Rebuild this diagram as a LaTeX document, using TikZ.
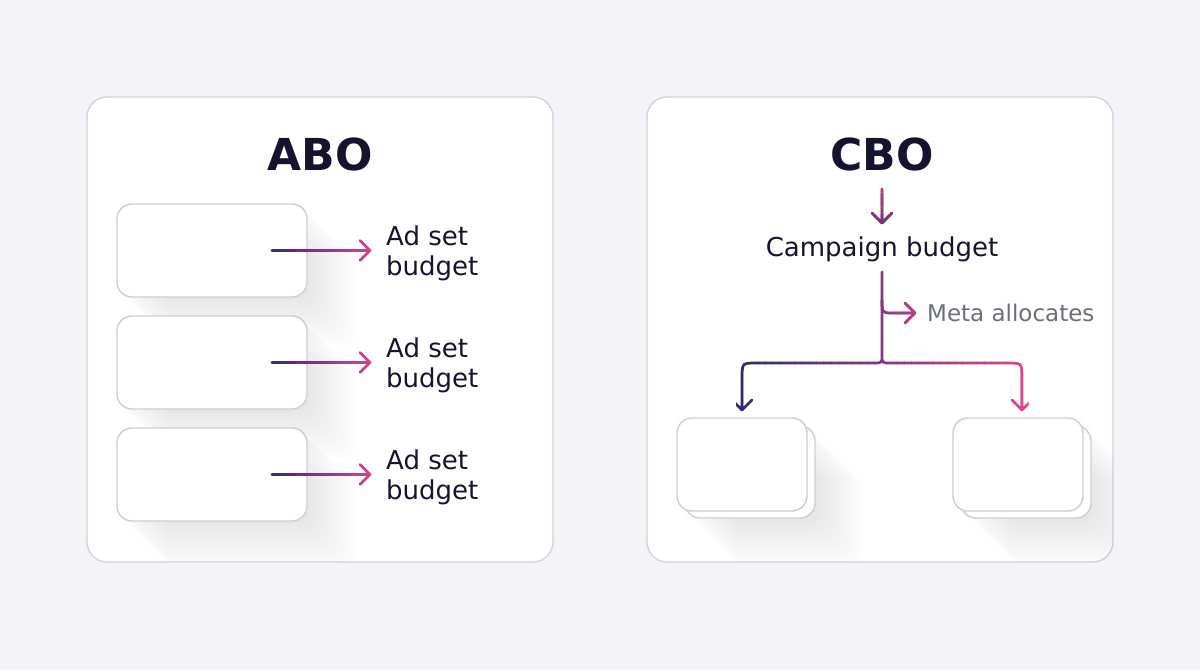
\documentclass[tikz,border=0pt]{standalone}
\usepackage{fontspec}
\setmainfont{DejaVu Sans}
\definecolor{bgc}{HTML}{F4F4F8}
\definecolor{panelb}{HTML}{D3D3DA}
\definecolor{boxb}{HTML}{CDCDD4}
\definecolor{inkc}{HTML}{15142E}
\definecolor{grayt}{HTML}{6E6E78}
\definecolor{navyc}{HTML}{2E2B70}
\definecolor{pinkc}{HTML}{DB468B}
\colorlet{midc}{pinkc!50!navyc}
\colorlet{metac}{pinkc!80!navyc}
\colorlet{topa}{pinkc!80!navyc}
\colorlet{topb}{pinkc!35!navyc}
\tikzset{
  panel/.style={fill=white, draw=panelb, line width=1.4pt, rounded corners=20pt, inner sep=0pt},
  adbox/.style={fill=white, draw=boxb, line width=1.4pt, rounded corners=15pt, minimum width=190pt, minimum height=93pt, inner sep=0pt},
  cbox/.style={fill=white, draw=boxb, line width=1.4pt, rounded corners=15pt, minimum width=130pt, minimum height=93pt, inner sep=0pt},
  flow/.style={line width=2.7pt, line cap=round, line join=round},
  titletext/.style={font=\bfseries\fontsize{44}{44}\selectfont, text=inkc, inner sep=0pt},
  lbl/.style={font=\fontsize{26}{30}\selectfont, text=inkc, align=left, inner sep=0pt},
  metalbl/.style={font=\fontsize{23}{23}\selectfont, text=grayt, inner sep=0pt},
}
% horizontal gradient along a path: xmin xmax ymin ymax leftcolor rightcolor path
\newcommand\hgradpath[7]{%
  \foreach \gi in {0,...,39}{%
    \pgfmathsetmacro\gxa{#1+(#2-#1)*\gi/40}%
    \pgfmathsetmacro\gxb{#1+(#2-#1)*(\gi+1)/40+0.6}%
    \pgfmathtruncatemacro\gp{100*\gi/39}%
    \begin{scope}
      \clip (\gxa,#3) rectangle (\gxb,#4);
      \draw[flow, draw=#6!\gp!#5] #7;
    \end{scope}}}
% vertical gradient: ymin ymax xmin xmax topcolor bottomcolor path
\newcommand\vgradpath[7]{%
  \foreach \gi in {0,...,19}{%
    \pgfmathsetmacro\gya{#1+(#2-#1)*\gi/20}%
    \pgfmathsetmacro\gyb{#1+(#2-#1)*(\gi+1)/20+0.6}%
    \pgfmathtruncatemacro\gp{100*\gi/19}%
    \begin{scope}
      \clip (#3,\gya) rectangle (#4,\gyb);
      \draw[flow, draw=#6!\gp!#5] #7;
    \end{scope}}}
\begin{document}
\begin{tikzpicture}[x=1pt,y=-1pt]
\fill[bgc] (0,0) rectangle (1200,670);
\useasboundingbox (0,0) rectangle (1200,670);
% panel shadows
\foreach \px in {87,647}{
  \foreach \k in {1,...,25}{
    \fill[black, fill opacity=0.0018, rounded corners=20pt] (\px+2.4*\k,97+2.4*\k) rectangle (\px+466+2.4*\k,562+2.4*\k);
  }
}
% panels
\node[panel, minimum width=466pt, minimum height=465pt] (pl) at (320,329.5) {};
\node[panel, minimum width=466pt, minimum height=465pt] (pr) at (880,329.5) {};
% box shadows, left panel
\begin{scope}
  \clip[rounded corners=20pt] (87,97) rectangle (553,562);
  \foreach \yy in {204,317,428}{
    \foreach \k in {1,...,24}{
      \fill[black, fill opacity=0.0032, rounded corners=15pt] (117+2.1*\k,\yy+2.1*\k) rectangle (307+2.1*\k,\yy+93+2.1*\k);
    }
  }
\end{scope}
% box shadows, right panel
\begin{scope}
  \clip[rounded corners=20pt] (647,97) rectangle (1113,562);
  \foreach \xx in {685,961}{
    \foreach \k in {1,...,24}{
      \fill[black, fill opacity=0.0032, rounded corners=15pt] (\xx+2.1*\k,426+2.1*\k) rectangle (\xx+130+2.1*\k,518+2.1*\k);
    }
  }
\end{scope}
% ABO boxes
\node[adbox] (b1) at (212,250.5) {};
\node[adbox] (b2) at (212,362.5) {};
\node[adbox] (b3) at (212,474.5) {};
% CBO stacked boxes
\node[cbox, minimum height=92pt] (lb2) at (750,472) {};
\node[cbox] (lb1) at (742,464.5) {};
\node[cbox, minimum height=92pt] (rb2) at (1026,472) {};
\node[cbox] (rb1) at (1018,464.5) {};
% titles
\node[titletext, anchor=base] (tA) at (320,170) {ABO};
\node[titletext, anchor=base] (tC) at (882,170) {CBO};
% ABO labels
\node[lbl, anchor=west] (l1) at (386,253) {Ad set\\budget};
\node[lbl, anchor=west] (l2) at (386,365) {Ad set\\budget};
\node[lbl, anchor=west] (l3) at (386,477) {Ad set\\budget};
% CBO labels
\node[lbl, anchor=base] (cb) at (882,256) {Campaign budget};
\node[metalbl, anchor=base west] (ma) at (927,321) {Meta allocates};
% ABO arrows
\foreach \i/\yy in {1/250.5,2/362.5,3/474.5}{
  \coordinate (as\i) at (272,\yy);
  \coordinate (ae\i) at (370,\yy);
}
\hgradpath{266}{376}{230}{272}{navyc}{pinkc}{(as1) -- (ae1) ++(-10,-10) -- (ae1) -- ++(-10,10)}
\hgradpath{266}{376}{342}{384}{navyc}{pinkc}{(as2) -- (ae2) ++(-10,-10) -- (ae2) -- ++(-10,10)}
\hgradpath{266}{376}{454}{496}{navyc}{pinkc}{(as3) -- (ae3) ++(-10,-10) -- (ae3) -- ++(-10,10)}
% CBO top arrow
\coordinate (ts) at (882,189);
\coordinate (te) at (882,223);
\vgradpath{185}{227}{860}{904}{topa}{topb}{(ts) -- (te) ++(-10,-10) -- (te) -- ++(10,-10)}
% CBO branches
\coordinate (trk) at (882,272);
\coordinate (jn) at (882,355);
\coordinate (lt) at (742,410);
\coordinate (rt) at (1022,410);
\hgradpath{736}{1028}{265}{416}{navyc}{pinkc}{(trk) -- (jn) .. controls (882,363) .. (874,363) -- (757,363) .. controls (742,363) .. (742,378) -- (lt) ++(-10,-10) -- (lt) -- ++(10,-10) (jn) .. controls (882,363) .. (890,363) -- (1007,363) .. controls (1022,363) .. (1022,378) -- (rt) ++(-10,-10) -- (rt) -- ++(10,-10)}
% Meta allocates branch
\coordinate (ms) at (882,300);
\coordinate (me) at (915,313);
\hgradpath{878}{920}{296}{327}{midc}{metac}{(ms) .. controls (882,313) .. (893,313) -- (me) ++(-10,-10) -- (me) -- ++(-10,10)}
\end{tikzpicture}
\end{document}
